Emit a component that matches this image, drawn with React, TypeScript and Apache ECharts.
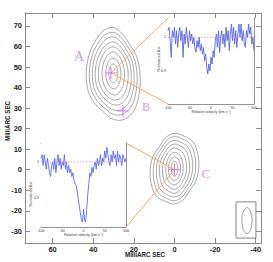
import React, { useEffect, useRef } from "react";
import * as echarts from "echarts";

// ---------- main map axes ----------
const mainXTicks = [60, 40, 20, 0, -20, -40];
const mainYTicks = [70, 60, 50, 40, 30, 20, 10, 0, -10, -20, -30];
const mainXRange = [-42.6, 73.6];
const mainYRange = [-35.7, 76.3];

// ---------- contour group A (upper source) ----------
const contourACenter = [30.1, 46.9];
const contourARx = [13.1, 11.6, 10.2, 8.8, 7.3, 5.5, 3.7, 2.2];
const contourARy = [22.4, 20.0, 17.8, 15.3, 12.9, 10.5, 7.5, 4.6];
// radial multipliers, every 22.5 deg starting East (picture right), counter-clockwise
const contourAShape = [1.0, 0.95, 0.88, 0.92, 1.0, 1.0, 0.98, 1.0, 1.02, 1.02, 0.95, 0.92, 1.0, 1.08, 1.12, 1.06];
const contourAWeight = [1, 0.9, 0.8, 0.7, 0.55, 0.4, 0.25, 0.1];

// ---------- contour group C (lower source) ----------
const contourCCenter = [0, 0.5];
const contourCRx = [11.9, 10.4, 8.9, 7.4, 5.9, 4.3, 3.0, 1.6];
const contourCRy = [17.2, 15.6, 13.8, 12.0, 10.0, 7.9, 5.7, 3.7];
const contourCShape = [1.0, 1.05, 1.08, 1.0, 1.0, 0.95, 0.88, 0.95, 1.0, 1.05, 1.08, 1.0, 1.0, 0.95, 0.88, 0.95];
const contourCWeight = [1, 0.9, 0.8, 0.7, 0.55, 0.4, 0.25, 0.1];

// ---------- crosses and labels ----------
const crossX = [31.3, 25.4, 0];
const crossY = [47.1, 28.6, 0];
const labelNames = ["A", "B", "C"];
const labelX = [47.0, 14.0, -15.4];
const labelY = [54.9, 30.5, -1.8];
const labelSizes = [14, 12, 13];

// ---------- beam ----------
const beamBoxX = [-30.3, -40.1];
const beamBoxY = [-15.7, -33.3];
const beamCenter = [-35.7, -24.8];
const beamAxes = [2.5, 6.3];

// ---------- spectra ----------
const velocity = [
  -100, -97.5, -95, -92.5, -90, -87.5, -85, -82.5, -80, -77.5, -75, -72.5, -70, -67.5, -65, -62.5,
  -60, -57.5, -55, -52.5, -50, -47.5, -45, -42.5, -40, -37.5, -35, -32.5, -30, -27.5, -25, -22.5,
  -20, -17.5, -15, -12.5, -10, -7.5, -5, -2.5, 0, 2.5, 5, 7.5, 10, 12.5, 15, 17.5,
  20, 22.5, 25, 27.5, 30, 32.5, 35, 37.5, 40, 42.5, 45, 47.5, 50, 52.5, 55, 57.5,
  60, 62.5, 65, 67.5, 70, 72.5, 75, 77.5, 80, 82.5, 85, 87.5, 90, 92.5, 95, 97.5, 100,
];
const fluxA = [
  1.02, 1.03, 0.99, 0.94, 1.02, 1.0, 1.03, 0.98, 1.02, 0.97, 1.01, 1.03, 0.99, 1.02, 0.94, 1.01,
  0.98, 1.03, 1.0, 0.97, 1.02, 0.99, 1.01, 0.98, 1.0, 0.97, 0.955, 0.99, 0.97, 1.0, 0.96, 0.98,
  0.95, 0.97, 0.93, 0.95, 0.91, 0.89, 0.92, 0.9, 0.94, 0.92, 0.96, 0.94, 0.99, 1.01, 0.97, 1.02,
  0.955, 1.0, 1.02, 0.98, 1.01, 0.97, 1.03, 0.99, 1.02, 0.96, 1.01, 1.04, 0.99, 1.03, 0.98, 1.02,
  0.97, 1.01, 1.04, 1.0, 1.04, 0.99, 1.02, 0.98, 0.97, 1.02, 1.0, 1.04, 1.01, 1.03, 0.98, 1.0, 0.96,
];
const fluxC = [
  1.01, 1.02, 0.99, 1.02, 1.0, 0.98, 1.01, 0.99, 0.97, 0.96, 0.99, 1.0, 0.98, 1.01, 0.97, 1.0,
  1.02, 0.99, 1.01, 0.98, 1.0, 0.99, 1.02, 0.98, 1.0, 0.97, 0.99, 0.97, 0.98, 0.96, 0.97, 0.95,
  0.94, 0.935, 0.92, 0.9, 0.88, 0.86, 0.84, 0.835, 0.87, 0.84, 0.835, 0.87, 0.91, 0.94, 0.97, 0.96,
  0.985, 0.97, 0.99, 1.0, 0.98, 1.01, 0.99, 1.0, 1.02, 0.99, 1.01, 1.0, 1.03, 1.01, 1.04, 1.02,
  1.0, 0.99, 1.02, 1.0, 1.03, 1.01, 1.02, 0.99, 1.03, 1.0, 1.02, 1.01, 0.99, 1.02, 1.01, 1.0, 1.01,
];
const insetVelTicks = [-100, -50, 0, 50, 100];
const insetFluxTicks = [0.9, 1];
const insetAYRange = [0.8, 1.058];
const insetCYRange = [0.821, 1.052];

// layout (pixels)
const MAIN = { left: 25, top: 13, width: 236, height: 230 };
const INSET_A = { left: 168, top: 18, width: 86, height: 86 };
const INSET_C = { left: 41, top: 143, width: 85, height: 84 };

const GRAY = "#8a8a8a";
const LABEL = "#222";
const VIOLET = "#cf7ae4";
const ORANGE = "#f0a35a";

export default function App() {
  const ref = useRef<HTMLDivElement>(null);

  useEffect(() => {
    document.body.style.margin = "0";
    if (!ref.current) return;
    const chart = echarts.init(ref.current, undefined, { renderer: "svg" });

    const groups = [
      { c: contourACenter, rx: contourARx, ry: contourARy, shape: contourAShape, w: contourAWeight },
      { c: contourCCenter, rx: contourCRx, ry: contourCRy, shape: contourCShape, w: contourCWeight },
    ];
    const contourData: number[][] = [];
    groups.forEach((g, gi) => g.rx.forEach((_, li) => contourData.push([gi, li])));

    const mainTickLabel = { fontSize: 7.5, fontWeight: "bold" as const, color: LABEL, fontFamily: "Liberation Sans" };
    const insetLabel = { fontSize: 3.6, color: "#333", fontFamily: "Liberation Sans" };

    const insetX = (grid: number, pos: "bottom" | "top", show: boolean) => ({
      type: "value",
      gridIndex: grid,
      position: pos,
      min: -100,
      max: 100,
      interval: 50,
      axisLine: { show: true, onZero: false, lineStyle: { color: "#777", width: 0.8 } },
      axisTick: { show: true, inside: true, length: 2, lineStyle: { color: "#777", width: 0.5 } },
      minorTick: { show: true, splitNumber: 5, length: 1.2, lineStyle: { color: "#777", width: 0.4 } },
      axisLabel: { show, margin: 1.5, ...insetLabel, customValues: insetVelTicks },
      splitLine: { show: false },
    });
    const insetY = (grid: number, pos: "left" | "right", show: boolean, range: number[]) => ({
      type: "value",
      gridIndex: grid,
      position: pos,
      min: range[0],
      max: range[1],
      axisLine: { show: true, onZero: false, lineStyle: { color: "#777", width: 0.8 } },
      axisTick: { show: true, inside: true, length: 2, customValues: insetFluxTicks, lineStyle: { color: "#777", width: 0.5 } },
      axisLabel: { show, margin: 2, ...insetLabel, customValues: insetFluxTicks, formatter: (v: number) => (Math.abs(v - 1) < 1e-6 ? "1" : v.toFixed(1)) },
      splitLine: { show: false },
    });

    const option: any = {
      animation: false,
      backgroundColor: "#fff",
      grid: [
        { ...MAIN, show: false },
        { ...INSET_A, show: true, backgroundColor: "#fff", borderWidth: 0, z: 5 },
        { ...INSET_C, show: true, backgroundColor: "#fff", borderWidth: 0, z: 5 },
      ],
      xAxis: [
        {
          type: "value", gridIndex: 0, position: "bottom", inverse: true,
          min: mainXRange[0], max: mainXRange[1],
          axisLine: { show: true, onZero: false, lineStyle: { color: GRAY, width: 1 } },
          axisTick: { show: true, inside: true, length: 5, customValues: mainXTicks, lineStyle: { color: GRAY } },
          axisLabel: { margin: 2, ...mainTickLabel, customValues: mainXTicks },
          splitLine: { show: false },
        },
        {
          type: "value", gridIndex: 0, position: "top", inverse: true,
          min: mainXRange[0], max: mainXRange[1],
          axisLine: { show: true, onZero: false, lineStyle: { color: GRAY, width: 1 } },
          axisTick: { show: true, inside: true, length: 5, customValues: mainXTicks, lineStyle: { color: GRAY } },
          axisLabel: { show: false },
          splitLine: { show: false },
        },
        insetX(1, "bottom", true),
        insetX(1, "top", false),
        insetX(2, "bottom", true),
        insetX(2, "top", false),
      ],
      yAxis: [
        {
          type: "value", gridIndex: 0, position: "left",
          min: mainYRange[0], max: mainYRange[1],
          axisLine: { show: true, onZero: false, lineStyle: { color: GRAY, width: 1 } },
          axisTick: { show: true, inside: true, length: 5, customValues: mainYTicks, lineStyle: { color: GRAY } },
          axisLabel: { margin: 3, ...mainTickLabel, customValues: mainYTicks },
          splitLine: { show: false },
        },
        {
          type: "value", gridIndex: 0, position: "right",
          min: mainYRange[0], max: mainYRange[1],
          axisLine: { show: true, onZero: false, lineStyle: { color: GRAY, width: 1 } },
          axisTick: { show: true, inside: true, length: 5, customValues: mainYTicks, lineStyle: { color: GRAY } },
          axisLabel: { show: false },
          splitLine: { show: false },
        },
        insetY(1, "left", true, insetAYRange),
        insetY(1, "right", false, insetAYRange),
        insetY(2, "left", true, insetCYRange),
        insetY(2, "right", false, insetCYRange),
      ],
      series: [
        {
          type: "custom",
          xAxisIndex: 0,
          yAxisIndex: 0,
          data: contourData,
          silent: true,
          renderItem: (_p: any, api: any) => {
            const g = groups[api.value(0)];
            const li = api.value(1);
            const n = g.shape.length;
            const pts = g.shape.map((m, k) => {
              const a = (k * Math.PI * 2) / n;
              const mm = 1 + (m - 1) * g.w[li];
              return api.coord([g.c[0] - g.rx[li] * mm * Math.cos(a), g.c[1] + g.ry[li] * mm * Math.sin(a)]);
            });
            return {
              type: "polygon",
              shape: { points: pts, smooth: 0.35 },
              style: { fill: "none", stroke: "#8c8c8c", lineWidth: 0.75 },
            };
          },
        },
        {
          type: "custom",
          xAxisIndex: 0,
          yAxisIndex: 0,
          data: crossX.map((x, i) => [x, crossY[i]]),
          silent: true,
          z: 4,
          renderItem: (_p: any, api: any) => {
            const p = api.coord([api.value(0), api.value(1)]);
            const s = 6;
            return {
              type: "group",
              children: [
                { type: "line", shape: { x1: p[0] - s, y1: p[1], x2: p[0] + s, y2: p[1] }, style: { stroke: VIOLET, lineWidth: 1 } },
                { type: "line", shape: { x1: p[0], y1: p[1] - s, x2: p[0], y2: p[1] + s }, style: { stroke: VIOLET, lineWidth: 1 } },
              ],
            };
          },
        },
        {
          type: "custom",
          xAxisIndex: 0,
          yAxisIndex: 0,
          data: [[beamCenter[0], beamCenter[1]]],
          silent: true,
          renderItem: (_p: any, api: any) => {
            const a = api.coord([beamBoxX[0], beamBoxY[0]]);
            const b = api.coord([beamBoxX[1], beamBoxY[1]]);
            const c = api.coord([api.value(0), api.value(1)]);
            const sz = api.size([beamAxes[0], beamAxes[1]]);
            return {
              type: "group",
              children: [
                {
                  type: "rect",
                  shape: { x: Math.min(a[0], b[0]), y: Math.min(a[1], b[1]), width: Math.abs(b[0] - a[0]), height: Math.abs(b[1] - a[1]) },
                  style: { fill: "none", stroke: "#666", lineWidth: 0.8 },
                },
                { type: "ellipse", shape: { cx: c[0], cy: c[1], rx: sz[0], ry: sz[1] }, style: { fill: "none", stroke: "#888", lineWidth: 0.8 } },
              ],
            };
          },
        },
        {
          type: "scatter",
          xAxisIndex: 0,
          yAxisIndex: 0,
          symbolSize: 0,
          silent: true,
          data: labelNames.map((n, i) => ({
            name: n,
            value: [labelX[i], labelY[i]],
            label: {
              show: true,
              position: "inside",
              formatter: n,
              fontFamily: "Liberation Serif",
              fontSize: labelSizes[i],
              color: VIOLET,
            },
          })),
        },
        {
          type: "line",
          xAxisIndex: 2,
          yAxisIndex: 2,
          data: velocity.map((v, i) => [v, fluxA[i]]),
          showSymbol: false,
          silent: true,
          z: 6,
          lineStyle: { color: "#5366e8", width: 0.9 },
        },
        {
          type: "line",
          xAxisIndex: 2,
          yAxisIndex: 2,
          data: [[-100, 1], [100, 1]],
          showSymbol: false,
          silent: true,
          z: 6,
          lineStyle: { color: "#e66ae6", width: 0.7, type: [1.5, 1.5] },
        },
        {
          type: "line",
          xAxisIndex: 4,
          yAxisIndex: 4,
          data: velocity.map((v, i) => [v, fluxC[i]]),
          showSymbol: false,
          silent: true,
          z: 6,
          lineStyle: { color: "#5a6cec", width: 0.9 },
        },
        {
          type: "line",
          xAxisIndex: 4,
          yAxisIndex: 4,
          data: [[-100, 1], [100, 1]],
          showSymbol: false,
          silent: true,
          z: 6,
          lineStyle: { color: "#e66ae6", width: 0.7, type: [1.5, 1.5] },
        },
      ],
    };

    chart.setOption(option);

    const pA = chart.convertToPixel({ xAxisIndex: 0, yAxisIndex: 0 }, [crossX[0], crossY[0]]) as number[];
    const pC = chart.convertToPixel({ xAxisIndex: 0, yAxisIndex: 0 }, [crossX[2], crossY[2]]) as number[];
    const lineStyle = { stroke: ORANGE, lineWidth: 0.9 };
    const nameFont = { fontSize: 8, fontWeight: "bold", fontFamily: "Liberation Sans", fill: LABEL, align: "center", verticalAlign: "middle" };
    const smallFont = { fontSize: 3.6, fontFamily: "Liberation Sans", fill: "#333", align: "center", verticalAlign: "middle" };

    chart.setOption({
      graphic: [
        { type: "line", z: 3, shape: { x1: pA[0], y1: pA[1], x2: INSET_A.left, y2: INSET_A.top }, style: lineStyle },
        { type: "line", z: 3, shape: { x1: pA[0], y1: pA[1], x2: INSET_A.left, y2: INSET_A.top + INSET_A.height }, style: lineStyle },
        { type: "line", z: 3, shape: { x1: pC[0], y1: pC[1], x2: INSET_C.left + INSET_C.width, y2: INSET_C.top }, style: lineStyle },
        { type: "line", z: 3, shape: { x1: pC[0], y1: pC[1], x2: INSET_C.left + INSET_C.width, y2: INSET_C.top + INSET_C.height }, style: lineStyle },
        { type: "text", x: 145, y: 255, scaleX: 0.78, style: { text: "MilliARC SEC", ...nameFont } },
        { type: "text", x: 8, y: 121, rotation: Math.PI / 2, scaleX: 0.78, style: { text: "MilliARC SEC", ...nameFont } },
        { type: "text", x: INSET_A.left + INSET_A.width / 2, y: 112, z: 10, style: { text: "Relative velocity (km s⁻¹)", ...smallFont } },
        { type: "text", x: 159, y: 59, z: 10, rotation: Math.PI / 2, style: { text: "Normalized flux", ...smallFont } },
        { type: "text", x: INSET_C.left + INSET_C.width / 2, y: 235, z: 10, style: { text: "Relative velocity (km s⁻¹)", ...smallFont } },
        { type: "text", x: 31, y: 194, z: 10, rotation: Math.PI / 2, style: { text: "Normalized flux", ...smallFont } },
      ],
    });

    return () => chart.dispose();
  }, []);

  return <div ref={ref} style={{ width: 273, height: 262 }} />;
}
